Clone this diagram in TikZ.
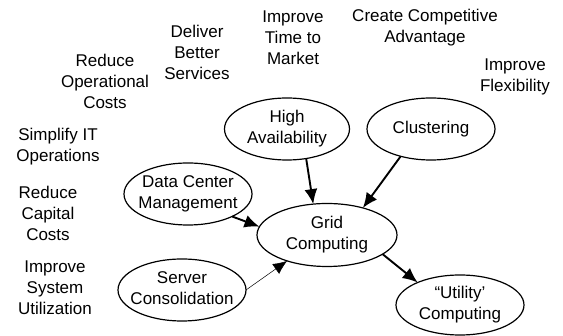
\documentclass[tikz,border=0pt]{standalone}
\usepackage{fontspec}
\setmainfont{Liberation Sans}
\usetikzlibrary{shapes.geometric,arrows.meta}
\newcommand{\elab}[1]{\makebox[0pt][c]{\begin{tabular}{@{}c@{}}#1\end{tabular}}}
\begin{document}
\begin{tikzpicture}[x=1pt,y=-1pt,
  txt/.style={font=\fontsize{17}{21}\selectfont, align=center, inner sep=0pt},
  oval/.style={draw, ellipse, line width=1.2pt, inner sep=0pt, outer sep=0pt, minimum width=128pt, minimum height=62pt, font=\fontsize{17}{21}\selectfont},
  bigarrow/.style={line width=1.9pt, -{Latex[length=15pt,width=13pt]}},
  thinarrow/.style={line width=0.5pt, -{Latex[length=14pt,width=12pt]}}]
\useasboundingbox (0,0) rectangle (563,336);
\node[txt] (roc) at (105,81) {Reduce\\Operational\\Costs};
\node[txt] (dbs) at (197,52) {Deliver\\Better\\Services};
\node[txt] (itm) at (293,38) {Improve\\Time to\\Market};
\node[txt] (cca) at (425,28) {Create Competitive\\Advantage};
\node[txt] (ifl) at (515,77) {Improve\\Flexibility};
\node[txt] (sio) at (58,147) {Simplify IT\\Operations};
\node[txt] (rcc) at (48,213) {Reduce\\Capital\\Costs};
\node[txt] (isu) at (55,288) {Improve\\System\\Utilization};

\node[oval, minimum width=125pt] (ha) at (287,129) {\elab{High\\Availability}};
\node[oval] (cl) at (431,129) {\elab{Clustering}};
\node[oval] (dcm) at (188,194) {\elab{Data Center\\Management}};
\node[oval] (sc) at (182,290) {\elab{Server\\Consolidation}};
\node[oval, minimum width=140pt, minimum height=63pt] (gc) at (327,235) {\elab{Grid\\Computing}};
\node[oval, minimum height=60pt] (uc) at (460,305) {\elab{``Utility'\\Computing}};

\draw[bigarrow] (ha.-57) -- (gc.114);
\draw[bigarrow] (cl.-138) -- (gc.37);
\draw[bigarrow] (dcm.-27) -- (gc.173);
\draw[thinarrow] (sc.0) -- (gc.-147);
\draw[bigarrow] (gc.-19) -- (uc.152);
\end{tikzpicture}
\end{document}
